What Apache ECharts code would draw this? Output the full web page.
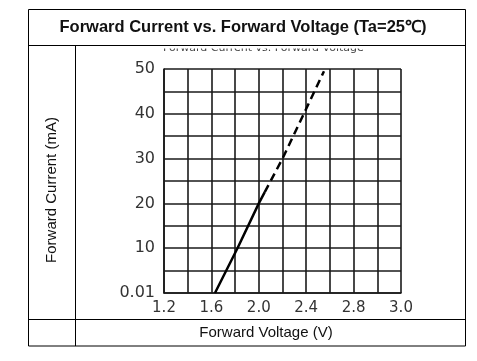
<!DOCTYPE html>
<html>
<head>
<meta charset="utf-8">
<script src="https://cdn.jsdelivr.net/npm/echarts@6/dist/echarts.min.js"></script>
<style>html,body{margin:0;padding:0;background:#fff;}#c{width:477px;height:361px;}</style>
</head>
<body>
<div id="c"></div>
<script>
// ---- data ----
const titleText = 'Forward Current vs. Forward Voltage (Ta=25\u2103)';
const ghostTitle = 'Forward Current vs. Forward Voltage';
const xAxisTitle = 'Forward Voltage (V)';
const yAxisTitle = 'Forward Current (mA)';
const xTickLabels = ['1.2', '', '1.6', '', '2.0', '', '2.4', '', '2.8', '', '3.0'];
const yTickLabels = ['0.01', '', '10', '', '20', '', '30', '', '40', '', '50'];
const solidVoltage = [1.63, 1.82, 2.0, 2.05];
const solidCurrent = [0, 10, 20, 22.5];
const dashedVoltage = [2.05, 2.2, 2.38, 2.55];
const dashedCurrent = [22.5, 30, 40, 49.5];

const chart = echarts.init(document.getElementById('c'), null, {renderer: 'canvas'});
const pair = (xs, ys) => xs.map((x, i) => [x, ys[i]]);
const lineCol = '#1a1a1a';

chart.setOption({
  animation: false,
  backgroundColor: '#fff',
  grid: {left: 164, top: 69, right: 76, bottom: 68},
  xAxis: {
    type: 'value', min: 1.2, max: 3.2, interval: 0.2,
    axisLine: {show: true, lineStyle: {color: lineCol, width: 1.6}},
    axisTick: {show: false},
    splitLine: {show: true, lineStyle: {color: lineCol, width: 1.6}},
    axisLabel: {
      margin: 8, color: '#333', fontFamily: 'DejaVu Sans', fontSize: 15,
      formatter: v => xTickLabels[Math.round((v - 1.2) / 0.2)] || ''
    }
  },
  yAxis: {
    type: 'value', min: 0, max: 50, interval: 5,
    axisLine: {show: true, lineStyle: {color: lineCol, width: 1.6}},
    axisTick: {show: false},
    splitLine: {show: true, lineStyle: {color: lineCol, width: 1.6}},
    axisLabel: {
      margin: 9, color: '#333', fontFamily: 'DejaVu Sans', fontSize: 16,
      formatter: v => yTickLabels[Math.round(v / 5)] || ''
    }
  },
  series: [
    {type: 'line', data: pair(solidVoltage, solidCurrent), showSymbol: false,
     lineStyle: {color: '#000', width: 2.5, type: 'solid'}, z: 5},
    {type: 'line', data: pair(dashedVoltage, dashedCurrent), showSymbol: false,
     lineStyle: {color: '#000', width: 2.5, type: [8, 5]}, z: 5}
  ],
  graphic: [
    // ghost title partially hidden
    {type: 'text', z: 1, x: 163, y: 43, style: {text: ghostTitle, font: '11px "DejaVu Sans"', fill: '#444'}},
    {type: 'rect', z: 2, shape: {x: 28, y: 9, width: 438, height: 39.5}, style: {fill: '#fff'}},
    // table lines
    {type: 'rect', z: 10, shape: {x: 28.5, y: 9.5, width: 437, height: 336.5}, style: {fill: null, stroke: '#000', lineWidth: 1}},
    {type: 'line', z: 10, shape: {x1: 28, y1: 45.5, x2: 466, y2: 45.5}, style: {stroke: '#000', lineWidth: 1}},
    {type: 'line', z: 10, shape: {x1: 75.5, y1: 45, x2: 75.5, y2: 346}, style: {stroke: '#000', lineWidth: 1}},
    {type: 'line', z: 10, shape: {x1: 28, y1: 319.5, x2: 466, y2: 319.5}, style: {stroke: '#000', lineWidth: 1}},
    // title
    {type: 'text', z: 11, x: 243, y: 27, style: {text: titleText, font: 'bold 16.5px "Liberation Sans"', fill: '#111', align: 'center', verticalAlign: 'middle'}},
    // axis titles
    {type: 'text', z: 11, x: 266, y: 333, style: {text: xAxisTitle, font: '15px "Liberation Sans"', fill: '#111', align: 'center', verticalAlign: 'middle'}},
    {type: 'text', z: 11, x: 52, y: 190, rotation: Math.PI / 2, style: {text: yAxisTitle, font: '15px "Liberation Sans"', fill: '#111', align: 'center', verticalAlign: 'middle'}}
  ]
});
</script>
</body>
</html>
